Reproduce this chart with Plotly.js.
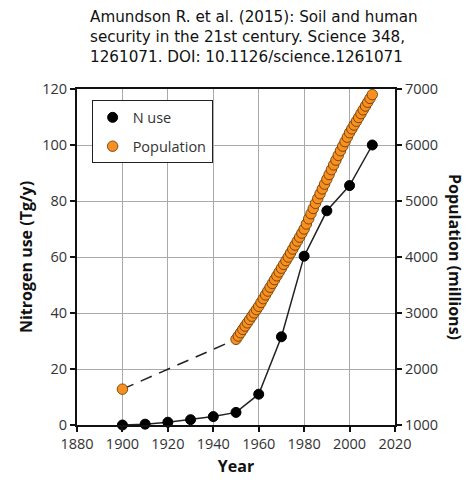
<!DOCTYPE html>
<html>
<head>
<meta charset="utf-8">
<script src="https://cdn.plot.ly/plotly-3.0.1.min.js"></script>
<style>html,body{margin:0;padding:0;background:#fff;}#chart{width:467px;height:485px;}</style>
</head>
<body>
<div id="chart"></div>
<script>
// N use (Tg/y), decadal
const nYears = [1900, 1910, 1920, 1930, 1940, 1950, 1960, 1970, 1980, 1990, 2000, 2010];
const nUse   = [0.0, 0.3, 1.0, 1.9, 3.0, 4.5, 11.0, 31.5, 60.3, 76.5, 85.5, 100.0];

// World population (millions)
const popYears = [1900,
  1950,1951,1952,1953,1954,1955,1956,1957,1958,1959,
  1960,1961,1962,1963,1964,1965,1966,1967,1968,1969,
  1970,1971,1972,1973,1974,1975,1976,1977,1978,1979,
  1980,1981,1982,1983,1984,1985,1986,1987,1988,1989,
  1990,1991,1992,1993,1994,1995,1996,1997,1998,1999,
  2000,2001,2002,2003,2004,2005,2006,2007,2008,2009,2010];
const population = [1640,
  2530,2589,2648,2707,2766,2825,2884,2943,3002,3061,
  3120,3188,3256,3324,3392,3460,3528,3596,3664,3732,
  3800,3868,3934,4000,4071,4142,4213,4284,4355,4427,
  4500,4590,4682,4774,4866,4958,5044,5130,5216,5302,
  5388,5474,5560,5645,5730,5815,5898,5980,6060,6140,
  6220,6288,6356,6424,6492,6560,6628,6696,6764,6832,6900];

const titleText = 'Amundson R. et al. (2015): Soil and human<br>security in the 21st century. Science 348,<br>1261071. DOI: 10.1126/science.1261071';

const font = "'Open Sans', 'DejaVu Sans', sans-serif";

const traces = [
  {
    x: nYears, y: nUse, type: 'scatter', mode: 'lines',
    line: {color: '#222', width: 1.5},
    showlegend: false, cliponaxis: false, yaxis: 'y', hoverinfo: 'skip'
  },
  {
    x: popYears.slice(0, 2), y: population.slice(0, 2), type: 'scatter', mode: 'lines',
    line: {color: '#222', width: 1.5, dash: '12px,8px'},
    showlegend: false, yaxis: 'y2', hoverinfo: 'skip'
  },
  {
    x: nYears, y: nUse, name: 'N use', type: 'scatter', mode: 'markers',
    marker: {color: '#000', size: 10, line: {color: '#000', width: 1}},
    cliponaxis: false, yaxis: 'y', legendgroup: 'a'
  },
  {
    x: popYears, y: population, name: 'Population', type: 'scatter', mode: 'markers',
    marker: {color: '#f7901e', size: 10.5, line: {color: '#5e3306', width: 0.8}},
    cliponaxis: false, yaxis: 'y2', legendgroup: 'b'
  }
];

const layout = {
  width: 467, height: 485,
  margin: {l: 77, r: 72, t: 89, b: 60},
  paper_bgcolor: '#fff', plot_bgcolor: '#fff',
  font: {family: font, size: 14, color: '#333'},
  showlegend: true,
  legend: {
    x: 0.046, y: 0.966, xanchor: 'left', yanchor: 'top',
    bgcolor: '#fff', bordercolor: '#222', borderwidth: 1,
    font: {family: font, size: 14.5, color: '#333'},
    itemwidth: 30, tracegroupgap: 7,
    traceorder: 'grouped'
  },
  xaxis: {
    range: [1880, 2020], dtick: 20, tick0: 1880,
    showgrid: true, gridcolor: '#aaa', gridwidth: 1,
    showline: true, linecolor: '#111', linewidth: 2, mirror: true,
    ticks: 'outside', ticklen: 5, tickcolor: '#111', tickwidth: 2,
    zeroline: false,
    tickfont: {family: font, size: 14.5, color: '#333'},
    title: {text: 'Year', font: {family: font, size: 16, color: '#111', weight: 'bold'}, standoff: 8}
  },
  yaxis: {
    range: [0, 120], dtick: 20,
    showgrid: true, gridcolor: '#aaa', gridwidth: 1,
    showline: true, linecolor: '#111', linewidth: 2,
    ticks: 'outside', ticklen: 5, tickcolor: '#111', tickwidth: 2,
    zeroline: false,
    tickfont: {family: font, size: 14.5, color: '#333'},
    title: {text: 'Nitrogen use (Tg/y)', font: {family: font, size: 16, color: '#111', weight: 'bold'}, standoff: 6}
  },
  yaxis2: {
    range: [1000, 7000], dtick: 1000, overlaying: 'y', side: 'right',
    showgrid: false,
    showline: true, linecolor: '#111', linewidth: 2,
    ticks: 'outside', ticklen: 5, tickcolor: '#111', tickwidth: 2,
    zeroline: false,
    tickfont: {family: font, size: 14.5, color: '#333'}
  },
  annotations: [
    {
      text: 'Population (millions)', textangle: 90,
      xref: 'paper', yref: 'paper', x: 1, y: 0.5,
      xanchor: 'center', yanchor: 'middle', xshift: 60, showarrow: false,
      font: {family: font, size: 16, color: '#111', weight: 'bold'}
    },
    {
      text: titleText, align: 'left',
      xref: 'paper', yref: 'paper', x: (88 - 77) / 318, y: 1 + (89 - 6) / 336,
      xanchor: 'left', yanchor: 'top', showarrow: false,
      font: {family: "'DejaVu Sans', sans-serif", size: 15.2, color: '#111'}
    }
  ]
};

Plotly.newPlot('chart', traces, layout, {displayModeBar: false, staticPlot: true});
</script>
</body>
</html>
